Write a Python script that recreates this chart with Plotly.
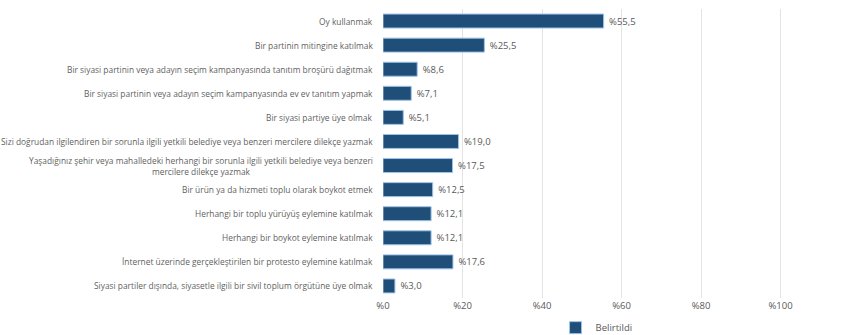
import plotly.graph_objects as go

# Political participation activities (top to bottom) and share who stated them (%)
activities = [
    "Oy kullanmak",
    "Bir partinin mitingine katılmak",
    "Bir siyasi partinin veya adayın seçim kampanyasında tanıtım broşürü dağıtmak",
    "Bir siyasi partinin veya adayın seçim kampanyasında ev ev tanıtım yapmak",
    "Bir siyasi partiye üye olmak",
    "Sizi doğrudan ilgilendiren bir sorunla ilgili yetkili belediye veya benzeri mercilere dilekçe yazmak",
    "Yaşadığınız şehir veya mahalledeki herhangi bir sorunla ilgili yetkili belediye veya benzeri<br>mercilere dilekçe yazmak",
    "Bir ürün ya da hizmeti toplu olarak boykot etmek",
    "Herhangi bir toplu yürüyüş eylemine katılmak",
    "Herhangi bir boykot eylemine katılmak",
    "İnternet üzerinde gerçekleştirilen bir protesto eylemine katılmak",
    "Siyasi partiler dışında, siyasetle ilgili bir sivil toplum örgütüne üye olmak",
]
belirtildi = [55.5, 25.5, 8.6, 7.1, 5.1, 19.0, 17.5, 12.5, 12.1, 12.1, 17.6, 3.0]

tick_values = [0, 20, 40, 60, 80, 100]
tick_labels = ["%0", "%20", "%40", "%60", "%80", "%100"]

FONT = "Open Sans"
GREY = "#595959"
BAR = "#1f4e79"

fig = go.Figure()
fig.add_trace(go.Bar(
    y=activities,
    x=belirtildi,
    orientation="h",
    name="Belirtildi",
    marker=dict(color=BAR, line=dict(color="#9dc3e6", width=1)),
    texttemplate=" %%{x:.1f}",
    textposition="outside",
    textfont=dict(family=FONT, size=9.5, color=GREY),
    cliponaxis=False,
))

# Category labels, right-aligned against the axis, multi-line text centred
for act in activities:
    fig.add_annotation(
        x=0, xref="paper", xanchor="right", xshift=-8,
        y=act, yref="y", yanchor="middle",
        text=act, showarrow=False, align="center",
        font=dict(family=FONT, size=8.4, color="#5f5f5f"),
    )

fig.update_layout(
    width=860, height=335,
    margin=dict(l=383, r=0, t=9, b=37, autoexpand=False),
    paper_bgcolor="white", plot_bgcolor="white",
    separators=",.",
    bargap=0.42,
    showlegend=True,
    legend=dict(
        orientation="h", xref="container", x=0.646, xanchor="left",
        yref="container", y=0.022, yanchor="middle",
        font=dict(family=FONT, size=9.5, color=GREY),
        itemwidth=30, tracegroupgap=0,
    ),
    xaxis=dict(
        range=[0, 120],
        tickvals=tick_values, ticktext=tick_labels,
        showgrid=True, gridcolor="#e3e3e3", gridwidth=1,
        zeroline=False, showline=False, ticks="",
        tickfont=dict(family=FONT, size=9.5, color=GREY),
    ),
    yaxis=dict(
        autorange="reversed",
        showticklabels=False, showgrid=False, zeroline=False, ticks="",
    ),
)

fig.write_html("out.html")
